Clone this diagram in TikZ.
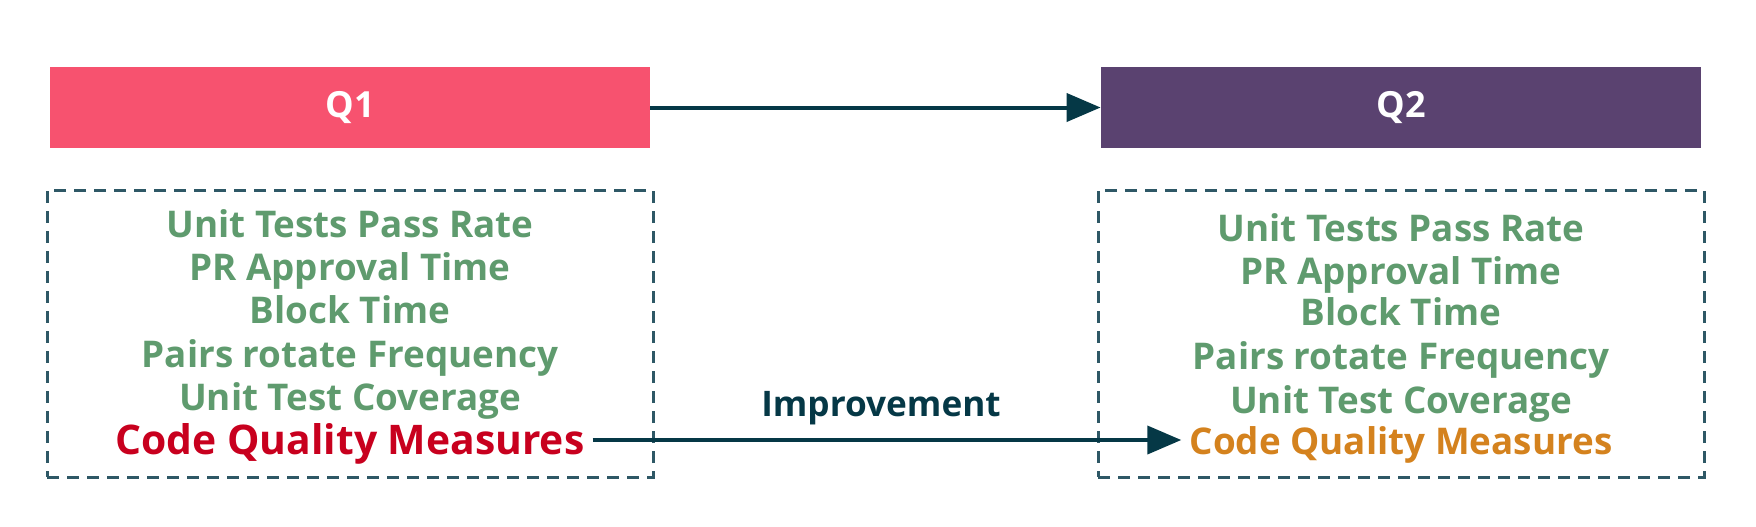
\documentclass[tikz,border=0pt]{standalone}
\usepackage{fontspec}
\setmainfont{Open Sans}[BoldFont={Open Sans Bold}]
\usetikzlibrary{arrows.meta, positioning}
\definecolor{qpink}{HTML}{F7526F}
\definecolor{qpurple}{HTML}{5A4270}
\definecolor{metricgreen}{HTML}{5F9B6E}
\definecolor{badred}{HTML}{C8001E}
\definecolor{okorange}{HTML}{D4821E}
\definecolor{arrowteal}{HTML}{053846}
\definecolor{dashteal}{HTML}{2E5866}

\begin{document}
\begin{tikzpicture}[
    x=0.5pt, y=-0.5pt,
    >={Triangle[length=17pt, width=14pt]},
    quarter/.style={rectangle, minimum width=300pt, minimum height=40.5pt,
                    inner sep=0pt, text=white, font=\bfseries\fontsize{18}{20}\selectfont},
    frame/.style={draw=dashteal, line width=1.5pt, dash pattern=on 6pt off 4pt,
                  minimum width=303pt, minimum height=143.5pt, inner sep=0pt},
    metric/.style={text=metricgreen, inner sep=1pt, text height=13pt, text depth=4pt,
                   font=\bfseries\fontsize{18.4}{22}\selectfont},
    link/.style={->, draw=arrowteal, line width=2pt}
  ]
  \useasboundingbox (0,0) rectangle (1756,526);

  % Quarter headers
  \node[quarter, fill=qpink] (q1) at (350, 107.5) {Q1};
  \node[quarter, fill=qpurple] (q2) at (1401, 107.5) {Q2};

  % Dashed frames
  \node[frame] (f1) at (350, 333.5) {};
  \node[frame] (f2) at (1401, 333.5) {};

  % Metrics
  \foreach \t/\ly/\ry [count=\k] in {Unit Tests Pass Rate/228/232,
                                     PR Approval Time/271/275,
                                     Block Time/314/316,
                                     Pairs rotate Frequency/358/360,
                                     Unit Test Coverage/401/404} {
    \node[metric] (l\k) at (350, \ly) {\t};
    \node[metric] (r\k) at (1401, \ry) {\t};
  }
  \node[metric, text=badred, font=\bfseries\fontsize{20.4}{24}\selectfont]
    (lcq) at (350, 445) {Code Quality Measures};
  \node[metric, text=okorange] (rcq) at (1401, 445) {Code Quality Measures};

  % Connections
  \draw[link] (q1) -- (q2);
  \draw[link] ([xshift=3pt, yshift=2.5pt]lcq.east) -- ([xshift=-3pt, yshift=2.5pt]rcq.west);

  % Labels
  \node[metric, text=arrowteal, font=\bfseries\fontsize{17.6}{21}\selectfont]
    (imp) at (881, 407) {Improvement};
\end{tikzpicture}
\end{document}
